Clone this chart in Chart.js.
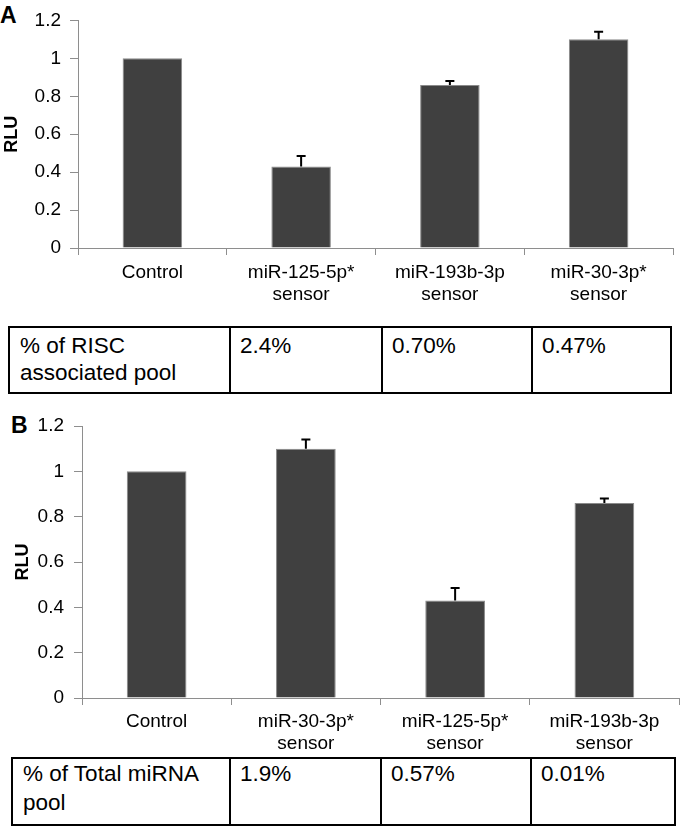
<!DOCTYPE html>
<html>
<head>
<meta charset="utf-8">
<script src="https://cdn.jsdelivr.net/npm/chart.js@4.4.1/dist/chart.umd.min.js"></script>
<style>
  html, body { margin: 0; padding: 0; background: #fff; }
  body { width: 680px; height: 827px; position: relative; overflow: hidden;
         font-family: "Liberation Sans", Arial, Helvetica, sans-serif; color: #000; }
  .panel-letter { position: absolute; font-size: 23px; font-weight: bold; line-height: 23px; }
  .chart-box { position: absolute; left: 0; width: 680px; }
  .pool-table { position: absolute; box-sizing: border-box; border: 2px solid #000;
                display: grid; font-size: 22.5px; }
  .pool-table .cell { box-sizing: border-box; padding-left: 9px; }
  .pool-table .cell + .cell { border-left: 2px solid #000; }
</style>
</head>
<body>
<div class="panel-letter" style="left:0px; top:4px;">A</div>
<div class="panel-letter" style="left:11px; top:414px;">B</div>

<div class="chart-box" style="top:0; height:312px;"><canvas id="chartA"></canvas></div>
<div class="chart-box" style="top:400px; height:357px;"><canvas id="chartB"></canvas></div>

<div id="tableA" class="pool-table"></div>
<div id="tableB" class="pool-table"></div>

<script>
// ---- data: panel A ----
const categoriesA = ["Control", ["miR-125-5p*", "sensor"], ["miR-193b-3p", "sensor"], ["miR-30-3p*", "sensor"]];
const rluA = [1.0, 0.43, 0.86, 1.10];
const errA = [0, 0.055, 0.02, 0.04];
const poolLabelA = ["% of RISC", "associated pool"];
const poolA = ["2.4%", "0.70%", "0.47%"];

// ---- data: panel B ----
const categoriesB = ["Control", ["miR-30-3p*", "sensor"], ["miR-125-5p*", "sensor"], ["miR-193b-3p", "sensor"]];
const rluB = [1.0, 1.10, 0.43, 0.86];
const errB = [0, 0.04, 0.055, 0.02];
const poolLabelB = ["% of Total miRNA", "pool"];
const poolB = ["1.9%", "0.57%", "0.01%"];

// shared y axis
const yTicks = { min: 0, max: 1.2, step: 0.2 };

const AXIS_GREY = "#8e8e8e";
const BAR_FILL = "#404040";
const BAR_EDGE = "#8a8a8a";

Chart.defaults.font.family = '"Liberation Sans", Arial, Helvetica, sans-serif';
Chart.defaults.color = "#000";

// upper-only error whiskers, drawn through the chart's own scales
const errorBarPlugin = {
  id: "errorBars",
  afterDatasetsDraw(chart, args, opts) {
    const { ctx } = chart;
    const y = chart.scales.y;
    const values = chart.data.datasets[0].data;
    const errs = opts.errors || [];
    ctx.save();
    ctx.strokeStyle = "#000";
    ctx.lineWidth = 2;
    chart.getDatasetMeta(0).data.forEach((bar, i) => {
      const e = errs[i];
      if (!e) return;
      const yBase = y.getPixelForValue(values[i]);
      const yTop = y.getPixelForValue(values[i] + e);
      ctx.beginPath();
      ctx.moveTo(bar.x, yBase);
      ctx.lineTo(bar.x, yTop);
      ctx.moveTo(bar.x - 4.5, yTop);
      ctx.lineTo(bar.x + 4.5, yTop);
      ctx.stroke();
    });
    ctx.restore();
  },
};

const buildConfig = (labels, values, errors, lay) => ({
  type: "bar",
  data: {
    labels,
    datasets: [{
      data: values,
      backgroundColor: BAR_FILL,
      borderColor: BAR_EDGE,
      borderWidth: 1,
      barPercentage: 0.4,
      categoryPercentage: 1,
    }],
  },
  options: {
    responsive: true,
    maintainAspectRatio: false,
    animation: false,
    layout: { padding: { top: lay.top, right: lay.right, left: 0, bottom: 0 } },
    plugins: {
      legend: { display: false },
      tooltip: { enabled: false },
      errorBars: { errors },
    },
    scales: {
      x: {
        grid: { drawOnChartArea: false, drawTicks: true, tickLength: 7, color: AXIS_GREY },
        border: { color: AXIS_GREY, width: 1 },
        ticks: { font: { size: 19 }, padding: lay.xPad, maxRotation: 0, autoSkip: false, color: "#000" },
        afterFit: (s) => { s.height = lay.xHeight; },
      },
      y: {
        min: yTicks.min,
        max: yTicks.max,
        grid: { drawOnChartArea: false, drawTicks: true, tickLength: 8, color: AXIS_GREY },
        border: { color: AXIS_GREY, width: 1 },
        ticks: {
          stepSize: yTicks.step,
          font: { size: 19 },
          padding: lay.yPad,
          color: "#000",
          callback: (v) => String(Number(v.toFixed(1))),
        },
        title: {
          display: true,
          text: "RLU",
          font: { size: 18, weight: "bold" },
          color: "#000",
          padding: { top: lay.titlePad, bottom: 0 },
        },
        afterFit: (s) => { s.width = lay.yWidth; },
      },
    },
  },
  plugins: [errorBarPlugin],
});

new Chart(document.getElementById("chartA"),
  buildConfig(categoriesA, rluA, errA, { top: 14, right: 7, xHeight: 64, xPad: 6, yPad: 9, yWidth: 78, titlePad: 1 }));
new Chart(document.getElementById("chartB"),
  buildConfig(categoriesB, rluB, errB, { top: 26, right: 1, xHeight: 59, xPad: 5, yPad: 10, yWidth: 82, titlePad: 12 }));

// pool tables under each chart
const buildTable = (id, labelLines, values, box) => {
  const el = document.getElementById(id);
  el.style.left = box.left + "px";
  el.style.top = box.top + "px";
  el.style.width = box.width + "px";
  el.style.height = box.height + "px";
  el.style.gridTemplateColumns = box.cols.map((c) => c + "px").join(" ");
  el.style.lineHeight = box.lineHeight + "px";
  const cells = [labelLines.join("<br>"), ...values];
  cells.forEach((html, i) => {
    const c = document.createElement("div");
    c.className = "cell";
    c.style.paddingTop = box.padTop + "px";
    if (i === 0) c.style.paddingLeft = "10px";
    c.innerHTML = html;
    el.appendChild(c);
  });
};

buildTable("tableA", poolLabelA, poolA, { left: 8, top: 326, width: 664, height: 68, cols: [219, 152, 150, 139], lineHeight: 27, padTop: 4 });
buildTable("tableB", poolLabelB, poolB, { left: 11, top: 757, width: 665, height: 69, cols: [216, 151, 150, 144], lineHeight: 29, padTop: 0 });
</script>
</body>
</html>
